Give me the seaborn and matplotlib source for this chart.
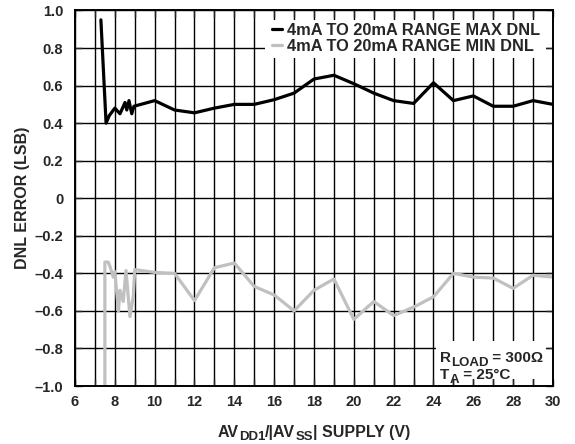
import matplotlib
matplotlib.use("Agg")
import matplotlib.pyplot as plt
import seaborn as sns
import pandas as pd
from matplotlib.ticker import MultipleLocator, FixedLocator
from matplotlib.patches import Rectangle
from matplotlib.transforms import IdentityTransform

# ---- data ----
max_x = [7.3, 7.56, 7.72, 8.0, 8.26, 8.51, 8.6, 8.71, 8.85, 8.96,
         10, 11, 12, 13, 14, 15, 16, 17, 18, 19, 20, 21, 22, 23, 24, 25, 26, 27, 28, 29, 30]
max_y = [0.95, 0.40, 0.44, 0.48, 0.45, 0.51, 0.47, 0.52, 0.45, 0.49,
         0.52, 0.47, 0.455, 0.48, 0.50, 0.50, 0.525, 0.56, 0.635, 0.655, 0.61, 0.56, 0.52,
         0.505, 0.615, 0.52, 0.545, 0.49, 0.49, 0.52, 0.50]
min_x = [7.5, 7.5, 7.67, 7.76, 7.92, 8.0, 8.18, 8.26, 8.42, 8.56, 8.76, 8.93, 9.0,
         10, 11, 12, 13, 14, 15, 16, 17, 18, 19, 20, 21, 22, 23, 24, 25, 26, 27, 28, 29, 30]
min_y = [-1.0, -0.34, -0.34, -0.365, -0.42, -0.39, -0.60, -0.49, -0.55, -0.385, -0.63, -0.52, -0.38,
         -0.395, -0.40, -0.545, -0.37, -0.345, -0.47, -0.515, -0.60, -0.49, -0.43, -0.645,
         -0.55, -0.625, -0.58, -0.525, -0.40, -0.42, -0.425, -0.48, -0.41, -0.42]
series_names = ["4mA TO 20mA RANGE MAX DNL", "4mA TO 20mA RANGE MIN DNL"]
y_ticks = [-1.0, -0.8, -0.6, -0.4, -0.2, 0, 0.2, 0.4, 0.6, 0.8, 1.0]
y_ticklabels = ["\u20131.0", "\u20130.8", "\u20130.6", "\u20130.4", "\u20130.2", "0",
                "0.2", "0.4", "0.6", "0.8", "1.0"]
x_ticks = [6, 8, 10, 12, 14, 16, 18, 20, 22, 24, 26, 28, 30]

df = pd.concat([
    pd.DataFrame({"x": max_x, "y": max_y, "series": series_names[0]}),
    pd.DataFrame({"x": min_x, "y": min_y, "series": series_names[1]}),
], ignore_index=True)

sns.set_style("ticks")
plt.rcParams["font.family"] = ["Liberation Sans", "DejaVu Sans"]
plt.rcParams["font.weight"] = "bold"

W, H = 575, 444
fig = plt.figure(figsize=(W / 100, H / 100), dpi=100)
L, R, T, B = 75, 553, 10.5, 386
ax = fig.add_axes([L / W, 1 - B / H, (R - L) / W, (B - T) / H])

sns.lineplot(data=df, x="x", y="y", hue="series", sort=False, estimator=None,
             palette={series_names[0]: "#000000", series_names[1]: "#c0c0c0"},
             linewidth=2.3, ax=ax, zorder=3)

ax.set_xlim(6, 30)
ax.set_ylim(-1.0, 1.0)
ax.xaxis.set_major_locator(FixedLocator(x_ticks))
ax.xaxis.set_minor_locator(MultipleLocator(1))
ax.set_yticks(y_ticks)
ax.set_yticklabels(y_ticklabels)
ax.set_xticklabels([str(t) for t in x_ticks])
for lab in ax.get_xticklabels() + ax.get_yticklabels():
    lab.set_fontweight("bold")
    lab.set_fontsize(10.5)

ax.grid(True, which="both", axis="x", color="black", linewidth=1.0)
ax.grid(True, which="major", axis="y", color="black", linewidth=1.0)
ax.set_axisbelow(True)
ax.tick_params(which="both", direction="in", top=True, right=True, length=5, width=1)
ax.tick_params(axis="x", pad=6.5)
ax.tick_params(axis="y", pad=8.5)
for s in ax.spines.values():
    s.set_linewidth(1.4)
    s.set_color("black")
    s.set_zorder(5)

ax.set_xlabel("")
ax.set_ylabel("DNL ERROR (LSB)", fontsize=11.5, fontweight="bold", labelpad=3)

# white panels behind legend and annotation (leave tick marks visible)
def px_to_axes(x, y):
    return (x - L) / (R - L), (B - y) / (B - T)

for (x0, y0, x1, y1) in [(265, 20, 546, 58), (436, 341, 546, 379)]:
    ax0, ay1 = px_to_axes(x0, y0)
    ax1, ay0 = px_to_axes(x1, y1)
    ax.add_patch(Rectangle((ax0, ay0), ax1 - ax0, ay1 - ay0, transform=ax.transAxes,
                           facecolor="white", edgecolor="none", zorder=1))

lx, ly = px_to_axes(540, 23)
leg = ax.legend(loc="upper right", bbox_to_anchor=(lx, ly), frameon=False,
                prop={"weight": "bold", "size": 11.8}, handlelength=0.6, handletextpad=0.3,
                borderpad=0, labelspacing=0.05, borderaxespad=0)
for line in leg.get_lines():
    line.set_linewidth(2.3)

# rich text with subscripts drawn piece by piece
renderer = fig.canvas.get_renderer()

def rich(x_px, y_top_px, pieces, ha="left"):
    items = []
    cur = 0.0
    for s, size, dy in pieces:
        t = fig.text(0, 0, s, fontsize=size, fontweight="bold", transform=IdentityTransform(),
                     ha="left", va="baseline", zorder=6)
        w = t.get_window_extent(renderer).width
        items.append((t, cur, dy))
        cur += w
    start = x_px - (cur / 2 if ha == "center" else 0)
    for t, off, dy in items:
        t.set_position((start + off, H - y_top_px - dy))

rich(314, 436.5, [("AV", 11.5, 0), ("DD1", 9.5, 3.5), ("/|AV", 11.5, 0),
                  ("SS", 9.5, 3.5), ("| SUPPLY (V)", 11.5, 0)], ha="center")
rich(440, 361.5, [("R", 11, 0), ("LOAD", 9.5, 4.0), (" = 300\u03a9", 11, 0)])
rich(440, 378.5, [("T", 11, 0), ("A", 9.5, 4.0), (" = 25\u00b0C", 11, 0)])

fig.savefig("out.png", dpi=100)
